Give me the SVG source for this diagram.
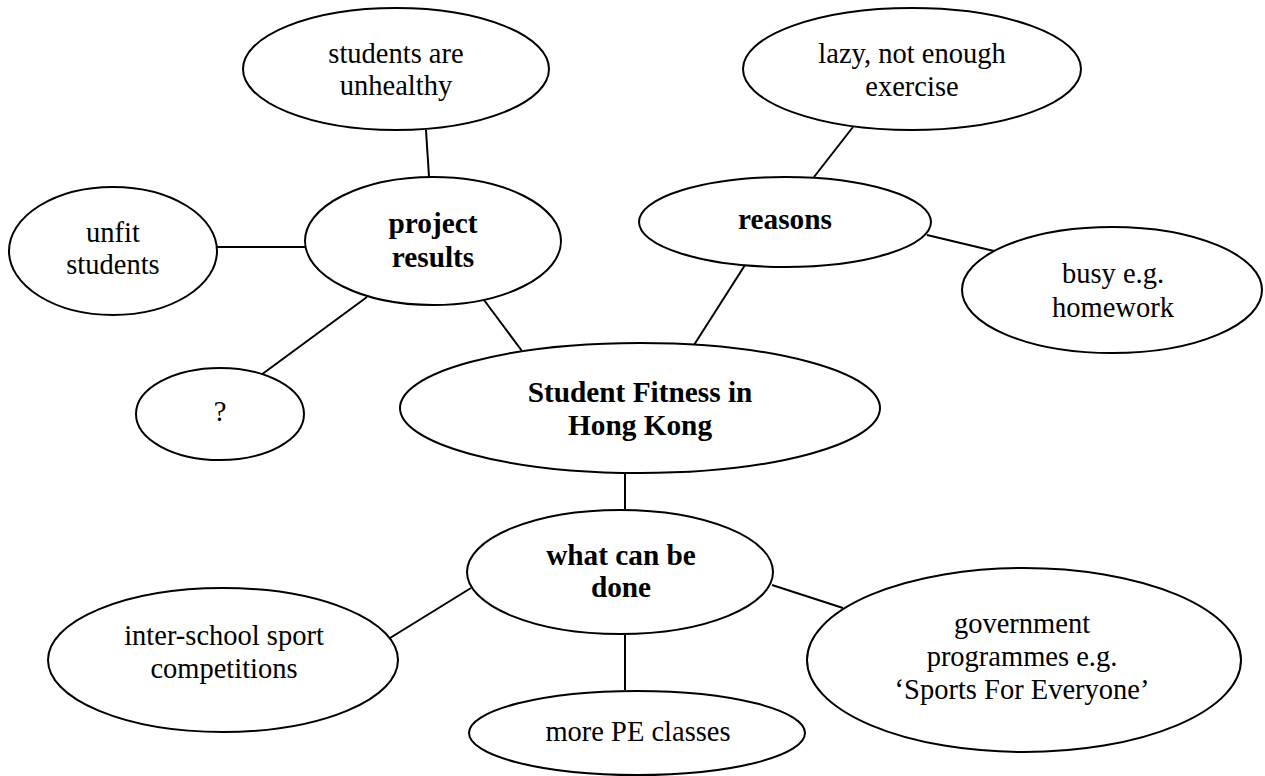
<svg xmlns="http://www.w3.org/2000/svg" width="1265" height="776" viewBox="0 0 1265 776">
<style>
  .n ellipse { fill: #ffffff; stroke: #000000; stroke-width: 2; }
  .t { font-family: "Liberation Serif", "Times New Roman", serif; font-size: 28.5px; fill: #000000; text-anchor: middle; }
  .b { font-weight: bold; font-size: 29.3px; }
  #connectors line { stroke: #000000; stroke-width: 2; }
</style>
<rect width="1265" height="776" fill="#ffffff"/>
<g id="connectors">
  <line x1="426" y1="130" x2="429" y2="177"/>
  <line x1="216" y1="247" x2="305" y2="247"/>
  <line x1="261" y1="375" x2="367" y2="297"/>
  <line x1="484" y1="300" x2="522" y2="351"/>
  <line x1="853" y1="127" x2="814" y2="177"/>
  <line x1="927" y1="235" x2="994" y2="251"/>
  <line x1="745" y1="265" x2="694" y2="345"/>
  <line x1="625" y1="473" x2="625" y2="510"/>
  <line x1="471" y1="588" x2="390" y2="638"/>
  <line x1="772" y1="585" x2="843" y2="608"/>
  <line x1="625" y1="634" x2="625" y2="690"/>
</g>
<g id="node-unhealthy" class="n">
  <ellipse cx="396" cy="69" rx="153" ry="61"/>
  <text class="t" x="396" y="63">students are</text>
  <text class="t" x="396" y="95">unhealthy</text>
</g>
<g id="node-lazy" class="n">
  <ellipse cx="912" cy="69" rx="169" ry="61"/>
  <text class="t" x="912" y="63">lazy, not enough</text>
  <text class="t" x="912" y="96">exercise</text>
</g>
<g id="node-unfit" class="n">
  <ellipse cx="113" cy="251" rx="104" ry="64"/>
  <text class="t" x="113" y="242">unfit</text>
  <text class="t" x="113" y="274">students</text>
</g>
<g id="node-project" class="n">
  <ellipse cx="433" cy="241" rx="128" ry="64"/>
  <text class="t b" x="433" y="233">project</text>
  <text class="t b" x="433" y="267">results</text>
</g>
<g id="node-reasons" class="n">
  <ellipse cx="785" cy="222" rx="146" ry="45"/>
  <text class="t b" x="785" y="229">reasons</text>
</g>
<g id="node-busy" class="n">
  <ellipse cx="1112" cy="290" rx="150" ry="63"/>
  <text class="t" x="1113" y="283">busy e.g.</text>
  <text class="t" x="1113" y="317">homework</text>
</g>
<g id="node-question" class="n">
  <ellipse cx="220" cy="414" rx="84" ry="46"/>
  <text class="t" x="220" y="421">?</text>
</g>
<g id="node-center" class="n">
  <ellipse cx="640" cy="408" rx="240" ry="65"/>
  <text class="t b" x="640" y="402">Student Fitness in</text>
  <text class="t b" x="640" y="435">Hong Kong</text>
</g>
<g id="node-what" class="n">
  <ellipse cx="620" cy="572" rx="153" ry="62"/>
  <text class="t b" x="621" y="565">what can be</text>
  <text class="t b" x="621" y="597">done</text>
</g>
<g id="node-inter" class="n">
  <ellipse cx="223" cy="660" rx="175" ry="72"/>
  <text class="t" x="224" y="645">inter-school sport</text>
  <text class="t" x="224" y="678">competitions</text>
</g>
<g id="node-gov" class="n">
  <ellipse cx="1024" cy="660" rx="217" ry="92"/>
  <text class="t" x="1022" y="633">government</text>
  <text class="t" x="1022" y="666">programmes e.g.</text>
  <text class="t" x="1022" y="699">‘Sports For Everyone’</text>
</g>
<g id="node-pe" class="n">
  <ellipse cx="637" cy="733" rx="168" ry="42"/>
  <text class="t" x="638" y="741">more PE classes</text>
</g>
</svg>
